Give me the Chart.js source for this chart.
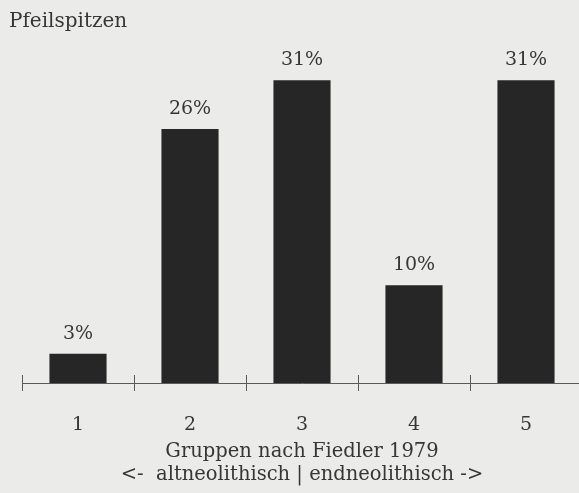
<!DOCTYPE html>
<html>
<head>
<meta charset="utf-8">
<script src="https://cdn.jsdelivr.net/npm/chart.js@4/dist/chart.umd.min.js"></script>
<style>
  html, body { margin: 0; padding: 0; overflow: hidden; background: #ebebe9; }
  #wrap { width: 582px; height: 493px; }
</style>
</head>
<body>
<div id="wrap"><canvas id="c" width="582" height="493"></canvas></div>
<script>
// Pfeilspitzen nach Gruppen (Fiedler 1979)
const groups = ['1', '2', '3', '4', '5'];
const shares = [3, 26, 31, 10, 31];
const shareLabels = ['3%', '26%', '31%', '10%', '31%'];
const axisTitle = ['Gruppen nach Fiedler 1979', '<-  altneolithisch | endneolithisch ->'];

const INK = '#363636';
const FONT = 'DejaVu Serif';

// labels over the bars + upper half of the axis ticks
const barLabels = {
    id: 'barLabels',
    afterDatasetsDraw(chart) {
        const ctx = chart.ctx;
        const meta = chart.getDatasetMeta(0);
        ctx.save();
        ctx.fillStyle = INK;
        ctx.font = '19px "' + FONT + '"';
        ctx.textAlign = 'center';
        ctx.textBaseline = 'alphabetic';
        meta.data.forEach((bar, i) => {
            ctx.fillText(shareLabels[i], bar.x, bar.y - 15);
        });
        ctx.restore();
    },
    afterDraw(chart) {
        const xs = chart.scales.x;
        const ctx = chart.ctx;
        ctx.save();
        ctx.strokeStyle = '#5a5a5a';
        ctx.lineWidth = 1;
        ctx.beginPath();
        for (let i = 0; i <= groups.length; i++) {
            const x = Math.round(xs.getPixelForValue(i - 0.5)) + 0.5;
            ctx.moveTo(x, xs.top - 8);
            ctx.lineTo(x, xs.top);
        }
        ctx.stroke();
        ctx.restore();
    }
};

new Chart(document.getElementById('c'), {
    type: 'bar',
    data: {
        labels: groups,
        datasets: [{
            data: shares,
            backgroundColor: '#262626',
            borderWidth: 0,
            barPercentage: 0.51,
            categoryPercentage: 1
        }]
    },
    options: {
        responsive: false,
        animation: false,
        devicePixelRatio: 1,
        layout: { padding: { left: 9, top: 0, right: 0, bottom: 0 } },
        plugins: {
            legend: { display: false },
            tooltip: { enabled: false },
            title: {
                display: true,
                text: 'Pfeilspitzen',
                align: 'start',
                color: INK,
                font: { family: FONT, size: 20, weight: 'normal' },
                padding: { top: 10, bottom: 17 }
            }
        },
        scales: {
            y: {
                min: 0,
                max: 34,
                grid: { display: false },
                border: { display: false },
                ticks: { display: false },
                afterFit: s => { s.width = 13; }
            },
            x: {
                grid: {
                    display: true,
                    drawOnChartArea: false,
                    drawTicks: true,
                    tickLength: 8,
                    color: '#5a5a5a',
                    offset: true
                },
                border: { display: true, color: '#5a5a5a', width: 1 },
                ticks: {
                    color: INK,
                    padding: 23,
                    font: { family: FONT, size: 19 }
                },
                title: {
                    display: true,
                    text: axisTitle,
                    color: INK,
                    font: { family: FONT, size: 19.5, lineHeight: 1.18 },
                    padding: { top: 2, bottom: 7 }
                },
                afterFit: s => { s.height = 110; }
            }
        }
    },
    plugins: [barLabels]
});
</script>
</body>
</html>
